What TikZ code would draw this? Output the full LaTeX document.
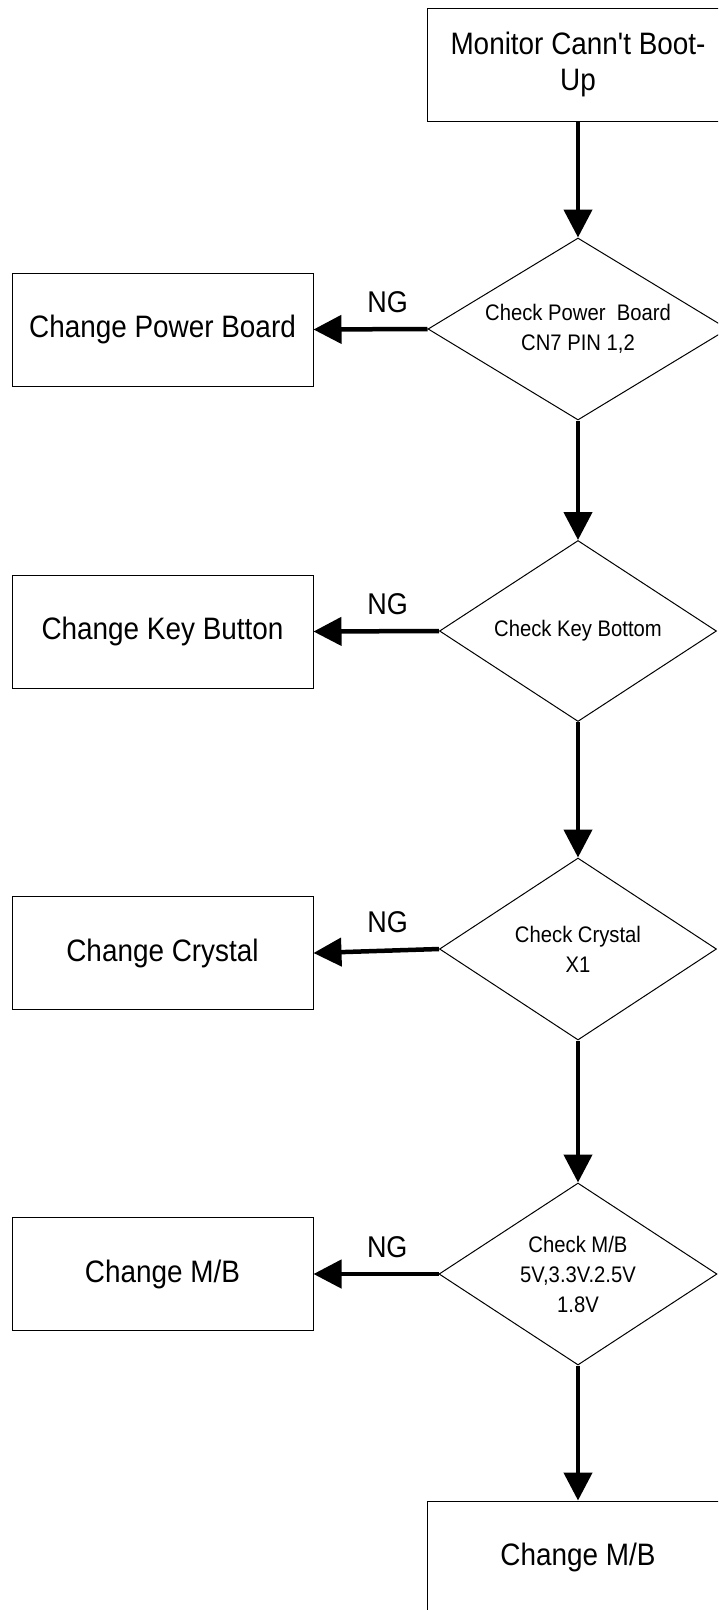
\documentclass[tikz,border=0pt]{standalone}
\usepackage{fontspec}
\setmainfont{Liberation Sans}
\newfontfamily\narrowfont[FakeStretch=0.9]{Liberation Sans}
\usetikzlibrary{shapes.geometric,arrows.meta}
\begin{document}
\begin{tikzpicture}[x=1pt,y=-1pt,
  box/.style={draw, line width=1pt, minimum width=301pt, minimum height=113pt, inner sep=0pt, align=center, font=\narrowfont\fontsize{31}{36}\selectfont},
  decision/.style={draw, diamond, line width=1pt, inner sep=0pt, align=center, shape aspect=1.6, font=\narrowfont\fontsize{22.5}{30}\selectfont},
  flow/.style={line width=4.5pt, -{Triangle[length=28pt,width=28pt]}},
  nglabel/.style={font=\narrowfont\fontsize{30}{36}\selectfont, inner sep=0pt}]
\useasboundingbox (0,0) rectangle (718,1610);
\clip (0,0) rectangle (718,1610);
% main column
\node[box, minimum width=302pt] (start) at (578,64.5) {Monitor Cann{\char"27}t Boot-\\Up};
\node[decision, minimum width=300pt, minimum height=182pt] (d1) at (578,329) {Check Power\ \ Board\\CN7 PIN 1,2};
\node[decision, minimum width=277pt, minimum height=181pt] (d2) at (578,631) {Check Key Bottom};
\node[decision, minimum width=277pt, minimum height=182pt] (d3) at (578,949) {Check Crystal\\X1};
\node[decision, minimum width=278pt, minimum height=182pt] (d4) at (578,1274) {Check M/B\\5V,3.3V.2.5V\\1.8V};
\node[box, minimum width=302pt] (end) at (578,1557.5) {Change M/B};
% left column
\node[box] (b1) at (162.5,329.5) {Change Power Board};
\node[box] (b2) at (162.5,631.5) {Change Key Button};
\node[box] (b3) at (162.5,953) {Change Crystal};
\node[box] (b4) at (162.5,1274) {Change M/B};
% vertical flow
\draw[flow] (start.south) -- (d1.north);
\draw[flow] (d1.south) -- (d2.north);
\draw[flow] (d2.south) -- (d3.north);
\draw[flow] (d3.south) -- (d4.north);
\draw[flow] (d4.south) -- (end.north);
% NG branches
\draw[flow] (d1.west) -- node[nglabel, pos=0.35, yshift=27pt] (ng1) {NG} (b1.east);
\draw[flow] (d2.west) -- node[nglabel, pos=0.41, yshift=27pt] (ng2) {NG} (b2.east);
\draw[flow] (d3.west) -- node[nglabel, pos=0.41, yshift=28pt] (ng3) {NG} (b3.east);
\draw[flow] (d4.west) -- node[nglabel, pos=0.41, yshift=27pt] (ng4) {NG} (b4.east);
\end{tikzpicture}
\end{document}
